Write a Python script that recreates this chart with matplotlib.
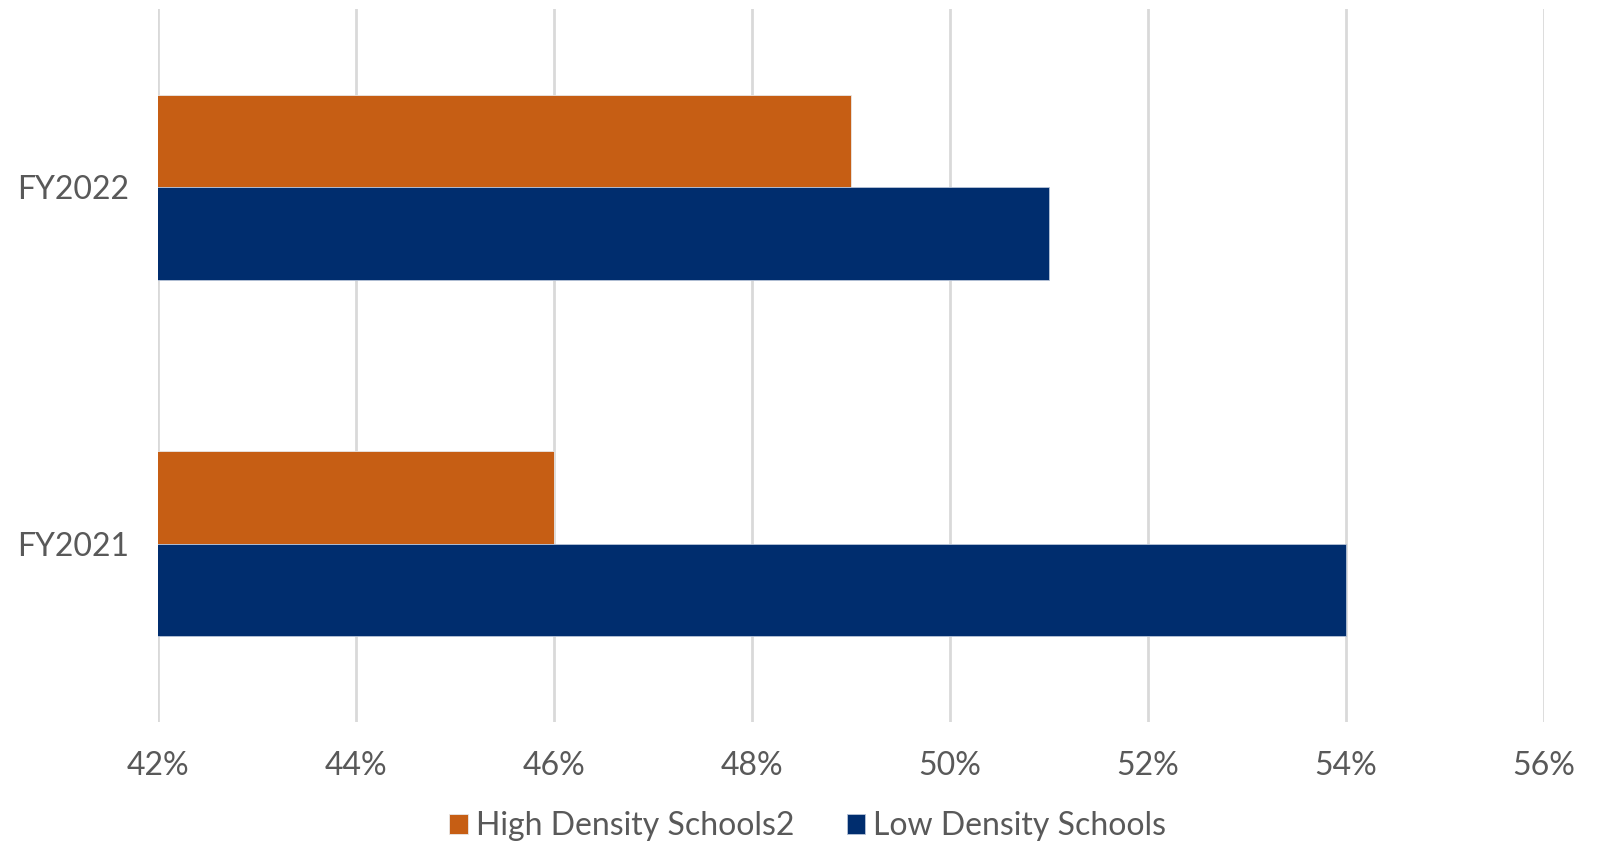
import numpy as np
import matplotlib.pyplot as plt
from matplotlib.ticker import FuncFormatter

# data
years = ['FY2021', 'FY2022']
high_density = [46, 49]
low_density = [54, 51]
series_names = ['High Density Schools2', 'Low Density Schools']
colors = ['#C65E14', '#002D6E']

plt.rcParams['font.family'] = ['Lato', 'DejaVu Sans']
text_grey = '#595959'

fig = plt.figure(figsize=(16.03, 8.41), dpi=100)
ax = fig.add_axes([0.0986, 0.1415, 0.8646, 0.8478])

y = np.arange(len(years))
h = 0.26
ax.barh(y + h / 2, high_density, height=h, color=colors[0], label=series_names[0],
        edgecolor='#E8E8E8', linewidth=0.6, zorder=3)
ax.barh(y - h / 2, low_density, height=h, color=colors[1], label=series_names[1],
        edgecolor='#B8C4D8', linewidth=0.6, zorder=3)

ax.set_xlim(42, 56)
ax.set_ylim(-0.5, 1.5)
ax.set_xticks(np.arange(42, 57, 2))
ax.xaxis.set_major_formatter(FuncFormatter(lambda v, p: f'{v:.0f}%'))
ax.set_yticks(y)
ax.set_yticklabels(years)

ax.grid(axis='x', color='#D9D9D9', linewidth=2, zorder=0)
for s in ax.spines.values():
    s.set_visible(False)
ax.tick_params(axis='x', length=0, pad=21, labelsize=23, labelcolor=text_grey)
ax.tick_params(axis='y', length=0, pad=21, labelsize=23, labelcolor=text_grey)

fig.legend(loc='center', bbox_to_anchor=(0.504, 0.018), ncol=2, frameon=False,
           fontsize=23, labelcolor=text_grey, handlelength=0.58, handleheight=0.58,
           handletextpad=0.25, columnspacing=1.65)

fig.savefig('out.png', dpi=100)
